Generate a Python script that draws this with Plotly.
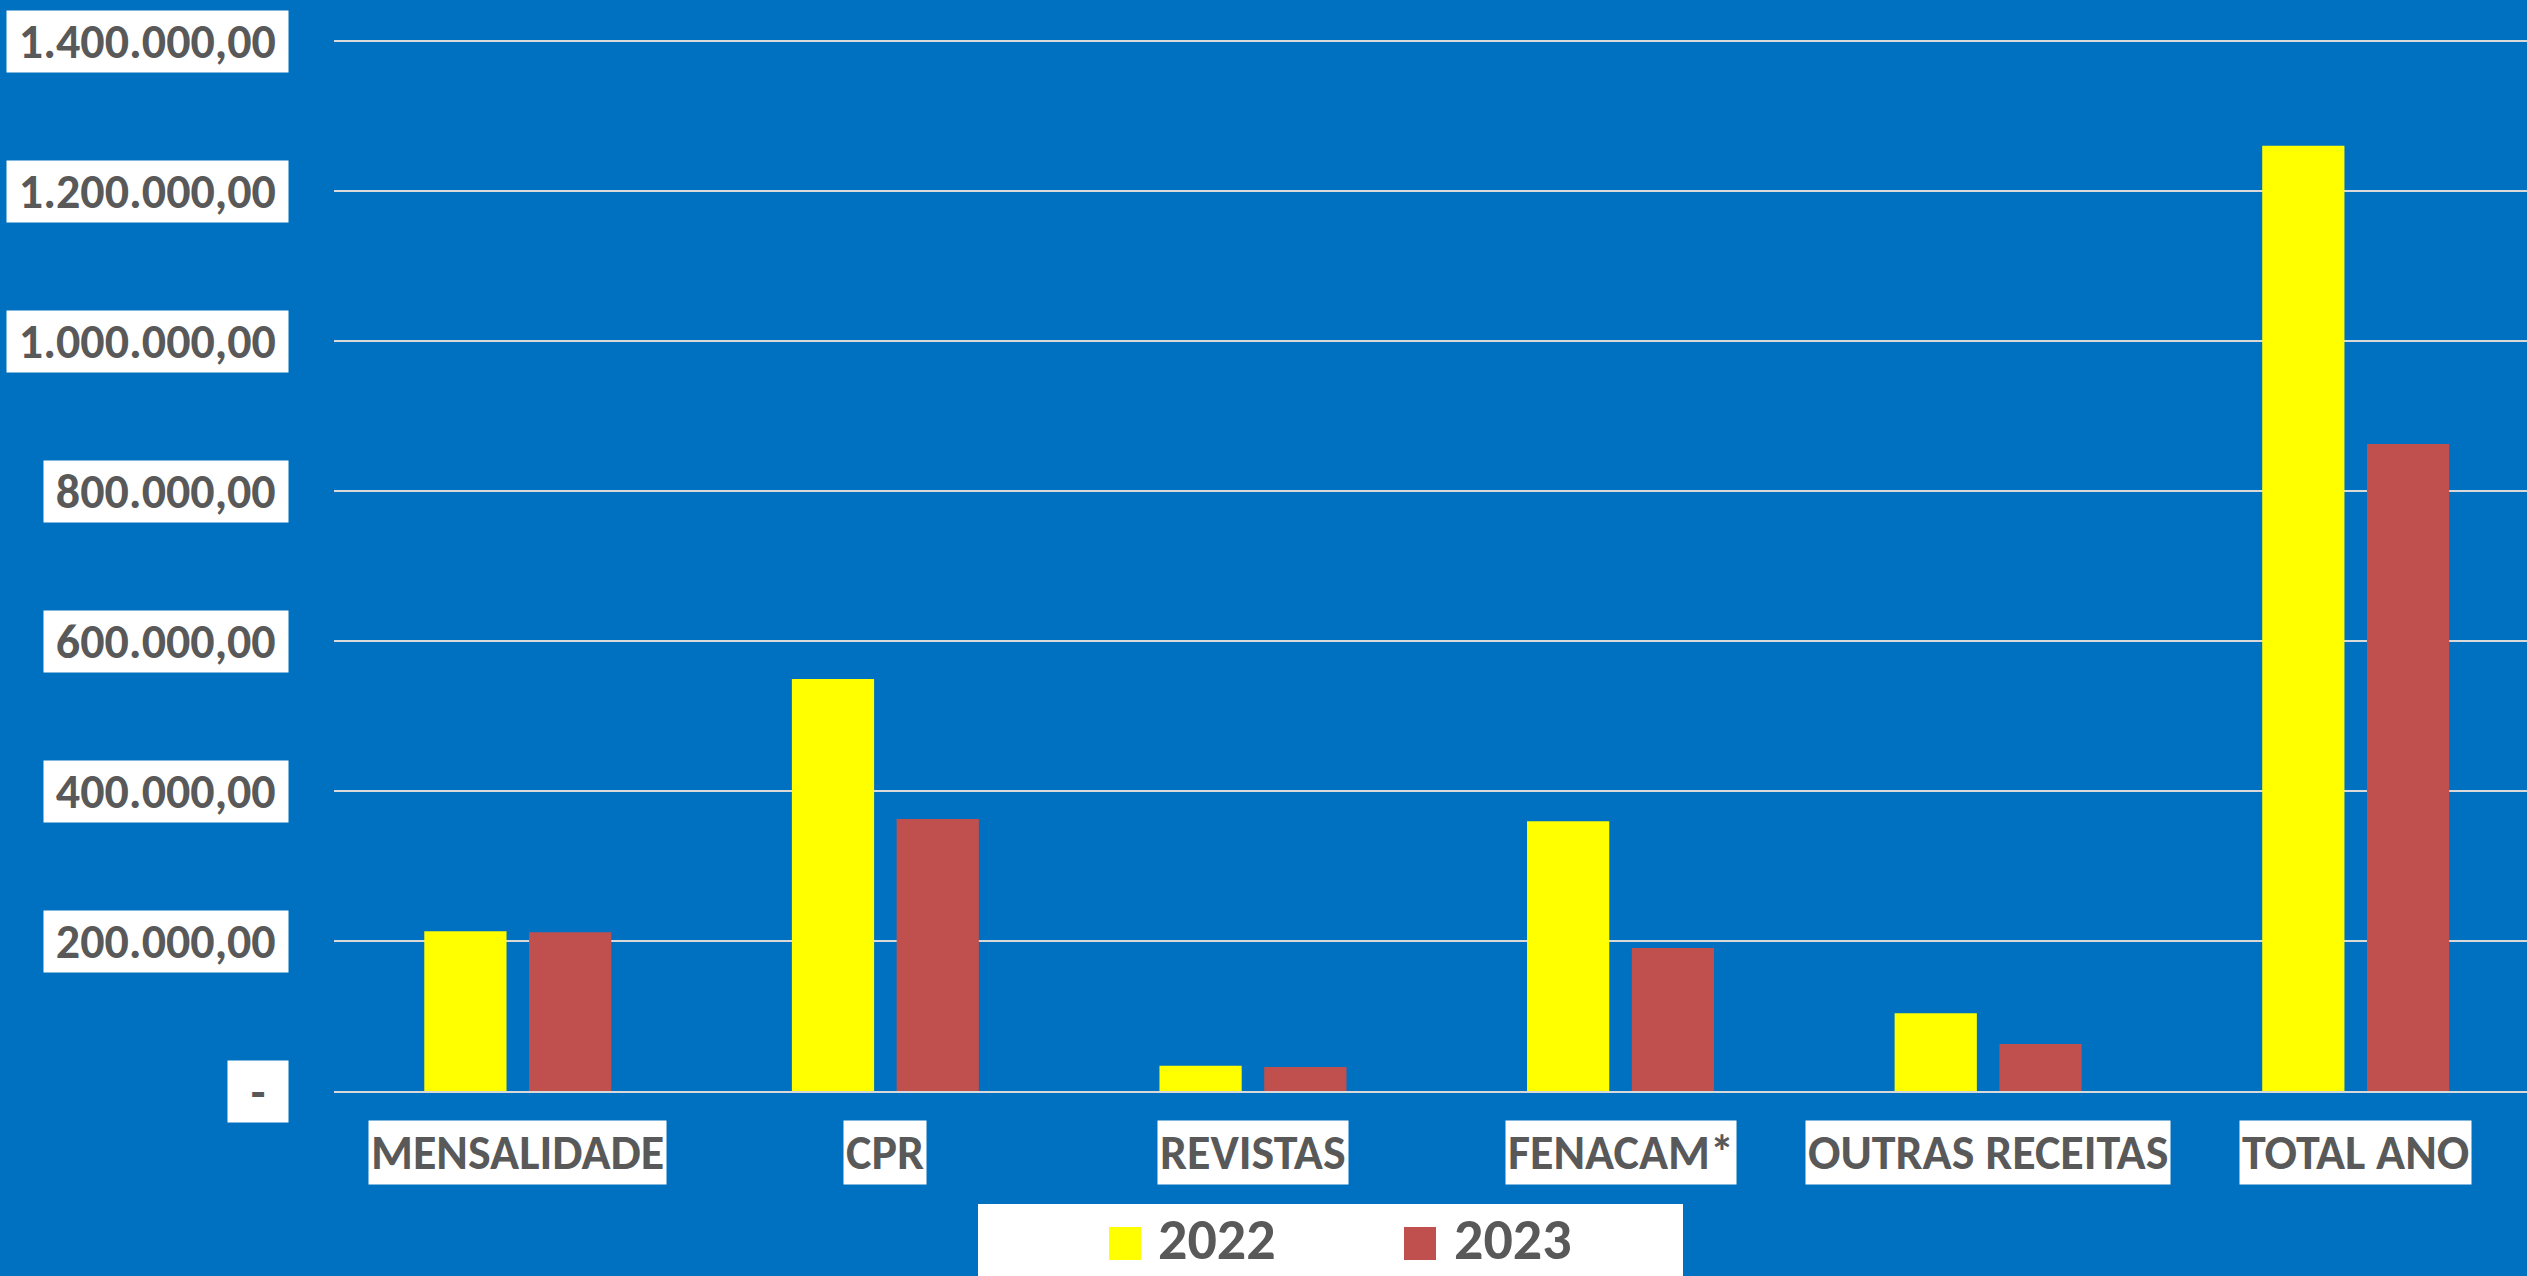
import plotly.graph_objects as go

# ---------------- data ----------------
categories = ["MENSALIDADE", "CPR", "REVISTAS", "FENACAM*", "OUTRAS RECEITAS", "TOTAL ANO"]
values_2022 = [212900, 549300, 33700, 359600, 103600, 1260400]
values_2023 = [211600, 362700, 32000, 190700, 62700, 862700]
series_names = ["2022", "2023"]
series_colors = ["#FFFF00", "#C0504D"]
y_tick_values = [0, 200000, 400000, 600000, 800000, 1000000, 1200000, 1400000]
y_tick_labels = ["-", "200.000,00", "400.000,00", "600.000,00", "800.000,00",
                 "1.000.000,00", "1.200.000,00", "1.400.000,00"]

# ---------------- layout geometry ----------------
W, H = 2527, 1276
ML, MR, MT, MB = 334, 0, 30, 185
PW = W - ML - MR
PH = H - MT - MB
BG = "#0070C0"
TXT = "#595959"
FONT = "Calibri, Carlito, Roboto, sans-serif"
NB = "\u00a0"


def px(x):
    return (x - ML) / PW


def py(y):
    return (H - MB - y) / PH


fig = go.Figure()
for name, vals, col in zip(series_names, [values_2022, values_2023], series_colors):
    fig.add_trace(go.Bar(x=categories, y=vals, name=name, marker_color=col,
                         marker_line_width=0, showlegend=False))

annotations = []
# y tick labels in white boxes
for v, lab in zip(y_tick_values, y_tick_labels):
    text = NB * 2 + lab + NB * 2 if lab == "-" else NB + lab + NB
    annotations.append(dict(x=px(289), xref="paper", xanchor="right",
                            y=v, yref="y", yanchor="middle",
                            text=text, showarrow=False, bgcolor="white", borderpad=1,
                            font=dict(family=FONT, size=48, color=TXT, weight="bold")))
# category labels in white boxes
for c in categories:
    annotations.append(dict(x=c, xref="x", xanchor="center",
                            y=py(1152), yref="paper", yanchor="middle",
                            text=c, showarrow=False, bgcolor="white",
                            borderpad=2,
                            font=dict(family=FONT, size=48, color=TXT, weight="bold")))

# manual legend
shapes = [dict(type="rect", xref="paper", yref="paper",
               x0=px(978), x1=px(1683), y0=py(1300), y1=py(1204),
               fillcolor="white", line_width=0, layer="above")]
legend_sq_x = [1109, 1404]
legend_tx_x = [1156, 1452]
for name, col, sx, tx in zip(series_names, series_colors, legend_sq_x, legend_tx_x):
    shapes.append(dict(type="rect", xref="paper", yref="paper",
                       x0=px(sx), x1=px(sx + 32), y0=py(1260), y1=py(1227),
                       fillcolor=col, line_width=0, layer="above"))
    annotations.append(dict(x=px(tx), xref="paper", xanchor="left",
                            y=py(1239), yref="paper", yanchor="middle",
                            text=name, showarrow=False,
                            font=dict(family=FONT, size=58, color=TXT, weight="bold")))

fig.update_layout(
    width=W, height=H,
    margin=dict(l=ML, r=MR, t=MT, b=MB, pad=0),
    paper_bgcolor=BG, plot_bgcolor=BG,
    barmode="group", bargap=0.43, bargroupgap=0.215,
    showlegend=False,
    annotations=annotations,
    shapes=shapes,
    xaxis=dict(type="category", range=[-0.5, 5.466], showticklabels=False,
               showgrid=False, zeroline=False, showline=True,
               linecolor="#D9D9D9", linewidth=2, ticks=""),
    yaxis=dict(range=[0, PH * 200000 / 150], tickvals=y_tick_values,
               showticklabels=False, showgrid=True, gridcolor="#D9D9D9",
               gridwidth=2, zeroline=False, showline=False, ticks=""),
)

fig.write_html("out.html", config={"displayModeBar": False},
               post_script="document.body.style.margin='0';document.body.style.overflow='hidden';")
